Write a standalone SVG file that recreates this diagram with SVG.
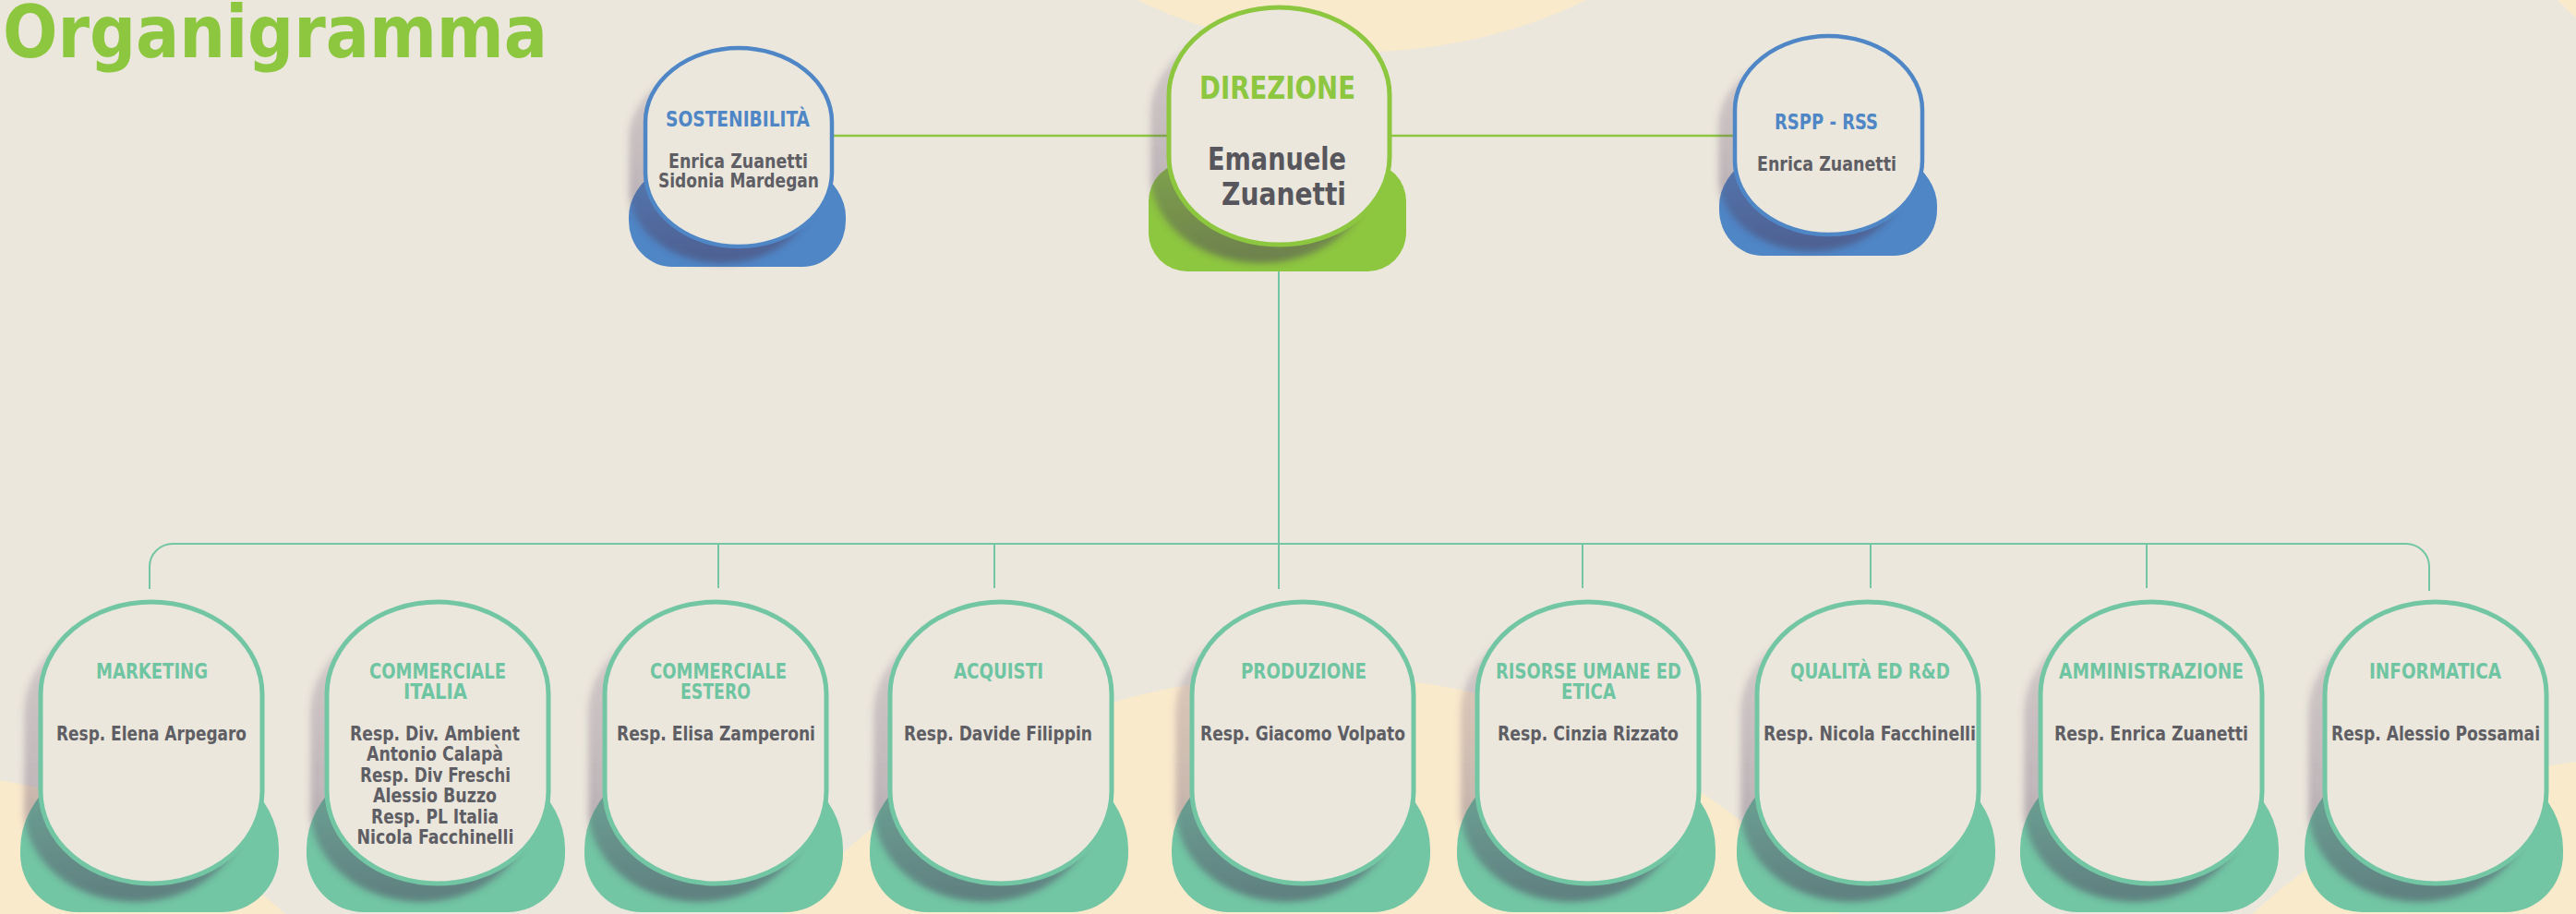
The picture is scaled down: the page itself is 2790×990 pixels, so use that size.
<svg xmlns="http://www.w3.org/2000/svg" xmlns:xlink="http://www.w3.org/1999/xlink" width="2790" height="990" viewBox="0 0 2790 990">
<style>
.t{font-family:"DejaVu Sans Condensed","DejaVu Sans","Liberation Sans",sans-serif;font-weight:bold;font-stretch:condensed;text-anchor:middle}
.hb{fill:#4f86c6;font-size:23px}
.hg{fill:#8dc63f;font-size:34px}
.ht{fill:#6fc5a2;font-size:23px}
.nm{fill:#5e5e64;font-size:21px}
.nmL{fill:#56565c;font-size:34px}
.ovB{fill:#ebe7dc;stroke:#72c6a4;stroke-width:5}
.blobT{fill:#72c6a4}
.shd{fill:url(#shg);filter:url(#blur)}
.lnG{stroke:#8dc63f;stroke-width:2.5;fill:none}
.lnT{stroke:#72c6a4;stroke-width:2;fill:none}
</style>
<defs>
<linearGradient id="shg" x1="0" y1="0" x2="0" y2="1">
<stop offset="0" stop-color="#7a5a82" stop-opacity="0.2"/>
<stop offset="0.6" stop-color="#5a4468" stop-opacity="0.3"/>
<stop offset="1" stop-color="#4a3a5a" stop-opacity="0.5"/>
</linearGradient>
<filter id="blur" x="-20%" y="-20%" width="140%" height="140%"><feGaussianBlur stdDeviation="3.5"/></filter>
<path id="blobB" d="M-142,920 A140,110 0 0 1 138,920 L138,925 A62,63 0 0 1 76,988 L-80,988 A62,63 0 0 1 -142,925 Z"/>
<rect id="ovalB" x="-120" y="652" width="240" height="305" rx="120" ry="100"/>
<g id="nodeB">
<use xlink:href="#blobB" class="blobT"/>
<use xlink:href="#ovalB" class="shd" transform="translate(-18,20)"/>
<use xlink:href="#ovalB" class="ovB"/>
</g>
</defs>

<rect width="2790" height="990" fill="#ebe7dc"/>
<g id="background">
<circle cx="1475" cy="-500" r="556" fill="#faeacc"/>
<circle cx="2980" cy="-200" r="290" fill="#faeacc"/>
<circle cx="-80" cy="1420" r="580" fill="#faeacc"/>
<circle cx="1420" cy="1490" r="760" fill="#faeacc"/>
<circle cx="2870" cy="1450" r="630" fill="#faeacc"/>
</g>

<text x="3" y="62" textLength="590" lengthAdjust="spacingAndGlyphs" style="font-family:'DejaVu Sans Condensed','DejaVu Sans',sans-serif;font-weight:bold;font-stretch:condensed;font-size:78px;fill:#8dc63f">Organigramma</text>

<g id="connectors">
<line class="lnG" x1="901" y1="147" x2="1268" y2="147"/>
<line class="lnG" x1="1503" y1="147" x2="1880" y2="147"/>
<line class="lnT" x1="1385" y1="294" x2="1385" y2="638"/>
<path class="lnT" d="M162,638 V614 A25,25 0 0 1 187,589 H2606 A25,25 0 0 1 2631,614 V640"/>
<line class="lnT" x1="778" y1="589" x2="778" y2="637"/>
<line class="lnT" x1="1077" y1="589" x2="1077" y2="637"/>
<line class="lnT" x1="1714" y1="589" x2="1714" y2="637"/>
<line class="lnT" x1="2026" y1="589" x2="2026" y2="637"/>
<line class="lnT" x1="2325" y1="589" x2="2325" y2="637"/>
</g>

<g id="sostenibilita">
<path d="M681,235 A117.5,75 0 0 1 916,235 L916,239 A47,50 0 0 1 869,289 L728,289 A47,50 0 0 1 681,239 Z" fill="#4f86c6"/>
<rect x="681" y="70" width="202" height="215" rx="101" ry="80" class="shd"/>
<rect x="699" y="52" width="202" height="215" rx="101" ry="80" fill="#ebe7dc" stroke="#4f86c6" stroke-width="4.5"/>
<text class="t hb" x="799" y="137" textLength="156" lengthAdjust="spacingAndGlyphs">SOSTENIBILITÀ</text>
<text class="t nm" x="799.5" y="182" font-size="20" textLength="151" lengthAdjust="spacingAndGlyphs">Enrica Zuanetti</text>
<text class="t nm" x="800" y="203" font-size="20" textLength="174" lengthAdjust="spacingAndGlyphs">Sidonia Mardegan</text>
</g>

<g id="direzione">
<rect x="1244" y="176" width="279" height="118" rx="42" fill="#8dc63f"/>
<rect x="1246" y="28" width="239" height="257" rx="119.5" ry="95" class="shd"/>
<rect x="1266" y="8" width="239" height="257" rx="119.5" ry="95" fill="#ebe7dc" stroke="#8dc63f" stroke-width="5"/>
<text class="t hg" x="1383.5" y="107" textLength="169" lengthAdjust="spacingAndGlyphs">DIREZIONE</text>
<text class="t nmL" x="1383" y="184" textLength="150" lengthAdjust="spacingAndGlyphs">Emanuele</text>
<text class="t nmL" x="1390.5" y="222" textLength="135" lengthAdjust="spacingAndGlyphs">Zuanetti</text>
</g>

<g id="rspp">
<path d="M1862,223 A118,75 0 0 1 2098,223 L2098,227 A47,50 0 0 1 2051,277 L1909,277 A47,50 0 0 1 1862,227 Z" fill="#4f86c6"/>
<rect x="1861" y="57" width="203" height="215" rx="101.5" ry="80" class="shd"/>
<rect x="1879" y="39" width="203" height="215" rx="101.5" ry="80" fill="#ebe7dc" stroke="#4f86c6" stroke-width="4.5"/>
<text class="t hb" x="1978" y="140" textLength="112" lengthAdjust="spacingAndGlyphs">RSPP - RSS</text>
<text class="t nm" x="1978.5" y="185" font-size="20" textLength="151" lengthAdjust="spacingAndGlyphs">Enrica Zuanetti</text>
</g>

<g id="marketing">
<use xlink:href="#nodeB" transform="translate(164,0)"/>
<text class="t ht" x="164.5" y="735" textLength="121" lengthAdjust="spacingAndGlyphs">MARKETING</text>
<text class="t nm" x="164" y="802" textLength="206" lengthAdjust="spacingAndGlyphs">Resp. Elena Arpegaro</text>
</g>

<g id="commerciale-italia">
<use xlink:href="#nodeB" transform="translate(474,0)"/>
<text class="t ht" x="474" y="735" textLength="148" lengthAdjust="spacingAndGlyphs">COMMERCIALE</text>
<text class="t ht" x="471.5" y="757" textLength="69" lengthAdjust="spacingAndGlyphs">ITALIA</text>
<text class="t nm" x="471" y="802" textLength="184" lengthAdjust="spacingAndGlyphs">Resp. Div. Ambient</text>
<text class="t nm" x="471" y="824" textLength="148" lengthAdjust="spacingAndGlyphs">Antonio Calapà</text>
<text class="t nm" x="471.5" y="847" textLength="163" lengthAdjust="spacingAndGlyphs">Resp. Div Freschi</text>
<text class="t nm" x="471" y="869" textLength="134" lengthAdjust="spacingAndGlyphs">Alessio Buzzo</text>
<text class="t nm" x="471" y="892" textLength="138" lengthAdjust="spacingAndGlyphs">Resp. PL Italia</text>
<text class="t nm" x="471.5" y="914" textLength="170" lengthAdjust="spacingAndGlyphs">Nicola Facchinelli</text>
</g>

<g id="commerciale-estero">
<use xlink:href="#nodeB" transform="translate(775,0)"/>
<text class="t ht" x="778" y="735" textLength="148" lengthAdjust="spacingAndGlyphs">COMMERCIALE</text>
<text class="t ht" x="775" y="757" textLength="76" lengthAdjust="spacingAndGlyphs">ESTERO</text>
<text class="t nm" x="775.5" y="802" textLength="215" lengthAdjust="spacingAndGlyphs">Resp. Elisa Zamperoni</text>
</g>

<g id="acquisti">
<use xlink:href="#nodeB" transform="translate(1084,0)"/>
<text class="t ht" x="1081.5" y="735" textLength="97" lengthAdjust="spacingAndGlyphs">ACQUISTI</text>
<text class="t nm" x="1081" y="802" textLength="204" lengthAdjust="spacingAndGlyphs">Resp. Davide Filippin</text>
</g>

<g id="produzione">
<use xlink:href="#nodeB" transform="translate(1411,0)"/>
<text class="t ht" x="1412" y="735" textLength="136" lengthAdjust="spacingAndGlyphs">PRODUZIONE</text>
<text class="t nm" x="1411" y="802" textLength="222" lengthAdjust="spacingAndGlyphs">Resp. Giacomo Volpato</text>
</g>

<g id="risorse-umane">
<use xlink:href="#nodeB" transform="translate(1720,0)"/>
<text class="t ht" x="1720.5" y="735" textLength="201" lengthAdjust="spacingAndGlyphs">RISORSE UMANE ED</text>
<text class="t ht" x="1720.5" y="757" textLength="59" lengthAdjust="spacingAndGlyphs">ETICA</text>
<text class="t nm" x="1720" y="802" textLength="196" lengthAdjust="spacingAndGlyphs">Resp. Cinzia Rizzato</text>
</g>

<g id="qualita">
<use xlink:href="#nodeB" transform="translate(2023,0)"/>
<text class="t ht" x="2025.5" y="735" textLength="173" lengthAdjust="spacingAndGlyphs">QUALITÀ ED R&amp;D</text>
<text class="t nm" x="2025" y="802" textLength="230" lengthAdjust="spacingAndGlyphs">Resp. Nicola Facchinelli</text>
</g>

<g id="amministrazione">
<use xlink:href="#nodeB" transform="translate(2330,0)"/>
<text class="t ht" x="2330" y="735" textLength="200" lengthAdjust="spacingAndGlyphs">AMMINISTRAZIONE</text>
<text class="t nm" x="2330" y="802" textLength="210" lengthAdjust="spacingAndGlyphs">Resp. Enrica Zuanetti</text>
</g>

<g id="informatica">
<use xlink:href="#nodeB" transform="translate(2638,0)"/>
<text class="t ht" x="2637.5" y="735" textLength="143" lengthAdjust="spacingAndGlyphs">INFORMATICA</text>
<text class="t nm" x="2638" y="802" textLength="226" lengthAdjust="spacingAndGlyphs">Resp. Alessio Possamai</text>
</g>
</svg>
